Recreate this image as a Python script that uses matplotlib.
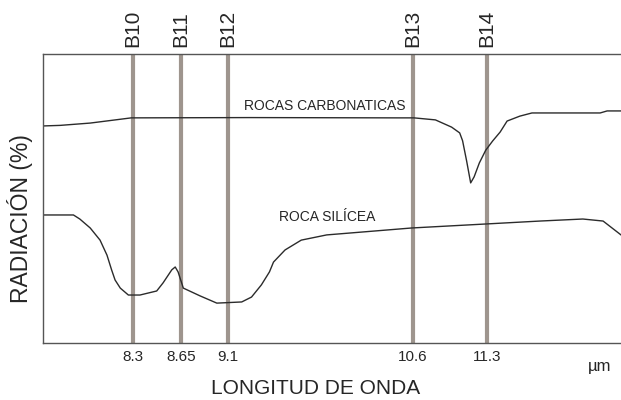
import matplotlib
matplotlib.use("Agg")
import matplotlib.pyplot as plt
import matplotlib.transforms as mtransforms

plt.rcParams['font.family'] = ['Liberation Sans', 'DejaVu Sans']

# posición relativa a lo largo del eje (0-100) y longitud de onda de cada banda
band_names = ['B10', 'B11', 'B12', 'B13', 'B14']
band_pos = [15.6, 23.9, 32.0, 64.0, 76.8]
band_wl = ['8.3', '8.65', '9.1', '10.6', '11.3']

# curva de rocas carbonáticas
carb_x = [0, 3.0, 8.2, 15.3, 35.8, 61.1, 64.2, 67.9, 70.7, 72.1, 72.6, 73.3,
          74.0, 74.6, 75.5, 76.6, 77.8, 79.1, 80.3, 82.5, 84.6, 96.4, 97.6, 100]
carb_y = [75.1, 75.3, 76.1, 77.9, 78.0, 77.9, 77.9, 77.2, 74.7, 72.7, 70.0, 63.0,
          55.4, 57.5, 62.3, 66.7, 69.9, 73.0, 76.8, 78.5, 79.6, 79.6, 80.3, 80.3]

# curva de roca silícea
sil_x = [0, 5.3, 6.4, 8.2, 9.9, 11.1, 11.9, 12.5, 13.4, 14.8, 16.8, 19.7, 20.8,
         22.3, 22.9, 23.4, 24.3, 27.2, 30.1, 34.4, 36.1, 37.8, 39.2, 39.9, 41.9,
         44.7, 49.1, 63.8, 76.8, 86.0, 93.4, 96.9, 100]
sil_y = [44.3, 44.3, 42.9, 39.8, 35.6, 30.4, 25.3, 21.8, 19.0, 16.6, 16.6, 18.0,
         20.8, 25.3, 26.3, 24.6, 19.0, 16.3, 13.8, 14.2, 15.9, 20.1, 24.6, 28.0,
         32.2, 35.6, 37.4, 39.8, 41.2, 42.2, 42.9, 42.2, 37.4]

txt = '#262626'
fig = plt.figure(figsize=(6.21, 4.0), dpi=100)
ax = fig.add_axes([42.8 / 621, 57 / 400, 1 - 42.8 / 621, 289 / 400])
ax.set_xlim(0, 100)
ax.set_ylim(0, 100)

# bandas
for x in band_pos:
    ax.axvline(x, color='#9e958e', lw=3.0, zorder=1)

ax.plot(carb_x, carb_y, color='#2b2b2b', lw=1.0, zorder=2)
ax.plot(sil_x, sil_y, color='#2b2b2b', lw=1.0, zorder=2)

ax.text(48.7, 82.0, 'ROCAS CARBONATICAS', ha='center', va='center',
        fontsize=10, color=txt)
ax.text(49.2, 43.5, 'ROCA SILÍCEA', ha='center', va='center',
        fontsize=10, color=txt)

# nombres de banda encima del marco
trans = mtransforms.blended_transform_factory(ax.transData, ax.transAxes)
for x, name in zip(band_pos, band_names):
    ax.annotate(name, xy=(x, 1.0), xycoords=trans, xytext=(0, 5),
                textcoords='offset points', rotation=90, ha='center',
                va='bottom', fontsize=15, color=txt)

ax.set_xticks(band_pos)
ax.set_xticklabels(band_wl, fontsize=11, color=txt)
ax.tick_params(axis='x', length=0, pad=5)
ax.set_yticks([])

for side in ['top', 'bottom', 'left']:
    ax.spines[side].set_color('#555555')
    ax.spines[side].set_linewidth(1.0)
ax.spines['right'].set_visible(False)

fig.text(316 / 621, 1 - 388 / 400, 'LONGITUD DE ONDA', ha='center',
         va='center', fontsize=15, color=txt)
fig.text(600 / 621, 1 - 367 / 400, 'µm', ha='center', va='center',
         fontsize=12, color=txt)
fig.text(20 / 621, 1 - 219 / 400, 'RADIACIÓN (%)', ha='center', va='center',
         rotation=90, fontsize=16.5, color=txt)

fig.savefig('out.png', dpi=100)
